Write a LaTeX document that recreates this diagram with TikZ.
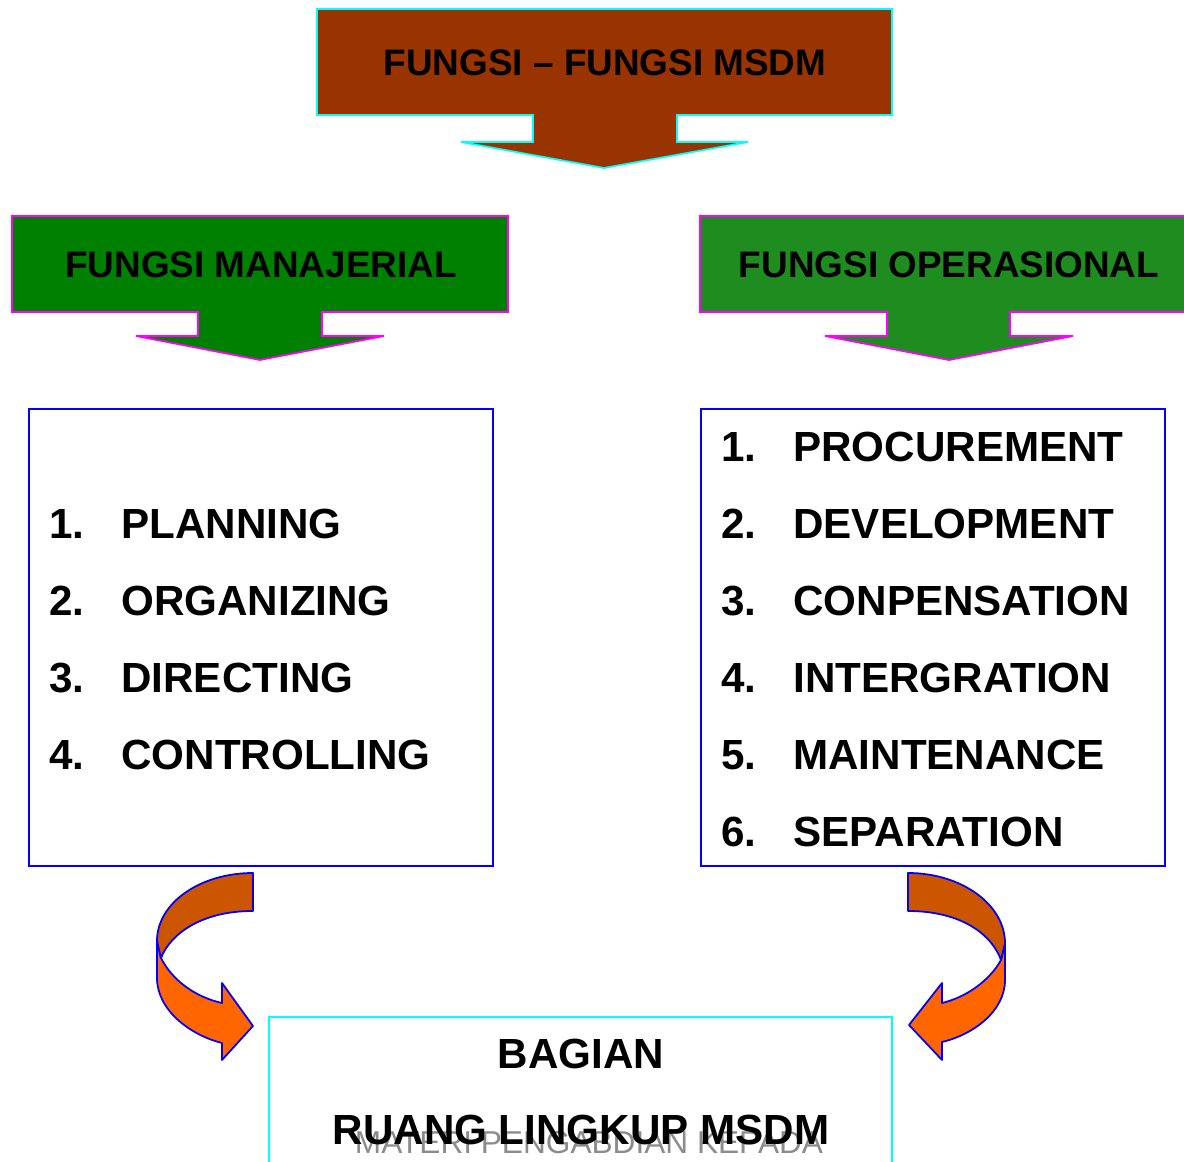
\documentclass[tikz,border=0pt]{standalone}
\usepackage{fontspec}
\setmainfont{Liberation Sans}
\usetikzlibrary{positioning}

\definecolor{msdmbrown}{HTML}{993300}
\definecolor{mangreen}{HTML}{008000}
\definecolor{opgreen}{HTML}{1E8C1E}
\definecolor{darkorange}{HTML}{CC5500}
\definecolor{lightorange}{HTML}{FF6600}
\definecolor{markgray}{HTML}{8C8C8C}
\definecolor{linecyan}{HTML}{00FFFF}
\definecolor{linemagenta}{HTML}{FF00FF}
\definecolor{lineblue}{HTML}{0000FF}

\begin{document}
\begin{tikzpicture}[
    x=0.02cm, y=-0.02cm,
    callout/.style={line width=1pt, line join=miter},
    head/.style={font=\fontsize{21}{25}\selectfont\bfseries, anchor=base},
    listbox/.style={draw=lineblue, line width=0.8pt},
    num/.style={font=\fontsize{24}{29}\selectfont\bfseries, anchor=base west, inner sep=0pt},
    item/.style={font=\fontsize{24}{29}\selectfont\bfseries, anchor=base west, inner sep=0pt},
    turn/.style={draw=lineblue, line width=1pt, line join=round}
]
\useasboundingbox (0,0) rectangle (1184,1162);

% Top callout
\draw[callout, draw=linecyan, fill=msdmbrown] (317,9) -- (892,9) -- (892,115) -- (677,115) -- (677,142) -- (748,142)
    -- (604,168) -- (461,142) -- (533,142) -- (533,115) -- (317,115) -- cycle;
\node[head] (msdm) at (605,76) {FUNGSI -- FUNGSI MSDM};

% Managerial callout
\draw[callout, draw=linemagenta, fill=mangreen] (12,216) -- (508,216) -- (508,312) -- (322,312) -- (322,336) -- (384,336)
    -- (260,360) -- (136,336) -- (198,336) -- (198,312) -- (12,312) -- cycle;
\node[head] (manajerial) at (261,278) {FUNGSI MANAJERIAL};

% Operational callout
\draw[callout, draw=linemagenta, fill=opgreen] (700,216) -- (1196,216) -- (1196,312) -- (1010,312) -- (1010,336) -- (1073,336)
    -- (949,360) -- (825,336) -- (887,336) -- (887,312) -- (700,312) -- cycle;
\node[head] (operasional) at (949,278) {FUNGSI OPERASIONAL};

% Lists
\draw[listbox] (29,409) rectangle (493,866);
\draw[listbox] (701,409) rectangle (1165,866);
\foreach \txt [count=\i] in {PLANNING, ORGANIZING, DIRECTING, CONTROLLING} {
    \node[num] (mnum\i) at (49,461+77*\i) {\i.};
    \node[item] (man\i) at (121,461+77*\i) {\txt};
}
\foreach \txt [count=\i] in {PROCUREMENT, DEVELOPMENT, CONPENSATION, INTERGRATION, MAINTENANCE, SEPARATION} {
    \node[num] (onum\i) at (721,384+77*\i) {\i.};
    \node[item] (op\i) at (793,384+77*\i) {\txt};
}

% Curved arrows
\draw[turn, fill=lightorange] (157,941) -- (157,978) .. controls (157,1010) and (190,1035) .. (222,1043) -- (222,1060)
    -- (253,1026) -- (222,983) -- (222,1003) .. controls (195,997) and (172,980) .. (161,958) -- cycle;
\draw[turn, fill=darkorange] (253,873) .. controls (200,873) and (157,903) .. (157,941) -- (161,958)
    .. controls (170,935) and (200,911) .. (253,911) -- cycle;
\draw[turn, fill=lightorange] (1005,943) -- (1005,980) .. controls (1005,1012) and (972,1035) .. (942,1042) -- (942,1060)
    -- (909,1025) -- (942,983) -- (942,1003) .. controls (967,997) and (990,980) .. (1001,960) -- cycle;
\draw[turn, fill=darkorange] (908,873) .. controls (962,873) and (1005,905) .. (1005,943) -- (1001,960)
    .. controls (992,935) and (962,911) .. (908,911) -- cycle;

% Bottom box
\draw[draw=linecyan, line width=1pt] (269,1176) -- (269,1017) -- (892,1017) -- (892,1176);
\node[font=\fontsize{18}{22}\selectfont, text=markgray, anchor=base] (mark) at (589,1153) {MATERI PENGABDIAN KEPADA};
\node[item, anchor=base] (bagian) at (581,1068) {BAGIAN};
\node[item, anchor=base] (ruang) at (581,1144) {RUANG LINGKUP MSDM};

\end{tikzpicture}
\end{document}
